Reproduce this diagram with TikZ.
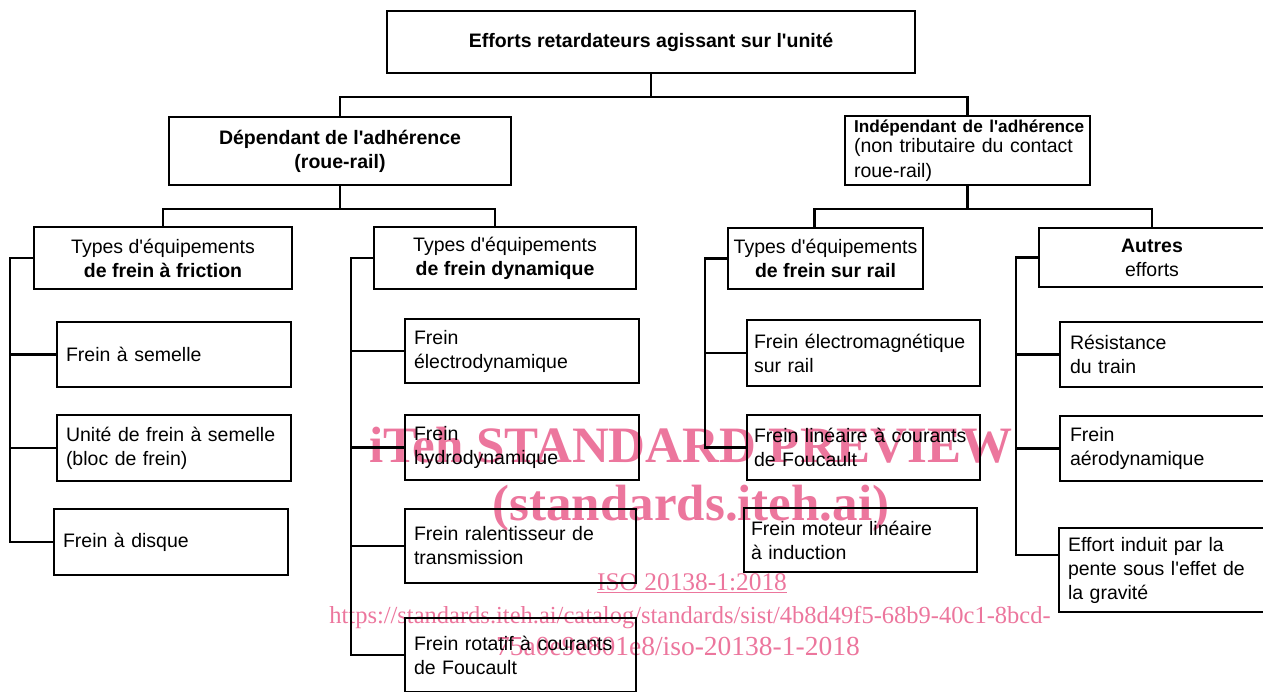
\documentclass[tikz,border=0pt]{standalone}
\usepackage{fontspec}
\setmainfont{Liberation Sans}[Ligatures=TeXOff]
\newfontfamily\wmfont{Liberation Serif}
\definecolor{wmpink}{RGB}{236,118,157}

\begin{document}
\begin{tikzpicture}[x=1pt, y=-1pt, line width=2.2pt,
  every node/.style={font=\fontsize{19.5}{24}\selectfont},
  hbox/.style={rectangle, draw, align=center, inner sep=0pt},
  leaf/.style={rectangle, draw, align=left, inner xsep=9pt, inner ysep=0pt},
  wm/.style={text=wmpink, font=\wmfont\fontsize{24.5}{26}\selectfont, anchor=base}]

\useasboundingbox (0,0) rectangle (1263,691);

% watermark
\draw (691,462) node (wmtitle) [wm, font=\wmfont\bfseries\fontsize{51}{52}\selectfont] {iTeh STANDARD PREVIEW};
\draw (691,520) node (wmsite) [wm, font=\wmfont\bfseries\fontsize{51}{52}\selectfont] {(standards.iteh.ai)};
\draw (692,590) node (wmiso) [wm, font=\wmfont\fontsize{25.4}{26}\selectfont] {\underline{ISO 20138-1:2018}};
\draw (690,623) node (wmurl) [wm] {https://standards.iteh.ai/catalog/standards/sist/4b8d49f5-68b9-40c1-8bcd-};
\draw (678,655) node (wmurlb) [wm, font=\wmfont\fontsize{27.5}{28}\selectfont] {75a0e9e801e8/iso-20138-1-2018};

% top levels
\draw (651,42) node (top) [hbox, minimum width=528pt, minimum height=62pt] {\textbf{Efforts retardateurs agissant sur l'unité}};
\draw (340,151) node (dep) [hbox, minimum width=342pt, minimum height=68pt] {\textbf{Dépendant de l'adhérence}\\\textbf{(roue-rail)}};
\draw (967.5,150.5) node (indep) [leaf, inner xsep=9pt, text width=227pt, minimum height=69pt] {\mbox{\fontsize{17.2}{18}\selectfont\bfseries Indépendant de l'adhérence}\\[-4pt](non tributaire du contact\\[1pt]roue-rail)};

\draw (top.south) -- ++(0,23) coordinate (t) -| (dep.north);
\draw (t) -| (indep.north);

% groups
\draw (163,258) node (fric) [hbox, minimum width=258pt, minimum height=62pt] {Types d'équipements\\\textbf{de frein à friction}};
\draw (505,258) node (dyn) [hbox, minimum width=262pt, minimum height=62pt] {Types d'équipements\\\textbf{de frein dynamique}};
\draw (825.5,258.5) node (rail) [hbox, minimum width=195pt, minimum height=61pt] {Types d'équipements\\\textbf{de frein sur rail}};
\draw (1152,257.5) node (autres) [hbox, minimum width=226pt, minimum height=59pt] {\textbf{Autres}\\efforts};

\draw (dep.south) -- ++(0,23) coordinate (d) -| (fric.north);
\draw (d) -| ([xshift=-10pt]dyn.north);
\draw (indep.south) -- ++(0,23) coordinate (i) -| ([xshift=-11pt]rail.north);
\draw (i) -| (autres.north);

% friction
\draw (174,354.5) node (semelle) [leaf, text width=216pt, minimum height=65pt] {Frein à semelle};
\draw (174,448) node (unite) [leaf, text width=216pt, minimum height=66pt] {Unité de frein à semelle\\(bloc de frein)};
\draw (171,542) node (disque) [leaf, text width=216pt, minimum height=66pt] {Frein à disque};

\draw (fric.west) -- ++(-23,0) coordinate (a) |- (disque.west);
\draw (a |- semelle.west) -- (semelle.west);
\draw (a |- unite.west) -- (unite.west);

% dynamique
\draw (522,351) node (electro) [leaf, text width=216pt, minimum height=64pt] {Frein\\électrodynamique};
\draw (522,447.5) node (hydro) [leaf, text width=216pt, minimum height=65pt] {Frein\\hydrodynamique};
\draw (520.5,546) node (ralent) [leaf, text width=213pt, minimum height=74pt] {Frein ralentisseur de\\transmission};
\draw (520.5,655) node (rotatif) [leaf, text width=213pt, minimum height=74pt] {Frein rotatif à courants\\de Foucault};

\draw (dyn.west) -- ++(-22,0) coordinate (b) |- (rotatif.west);
\draw (b |- electro.west) -- (electro.west);
\draw (b |- hydro.west) -- (hydro.west);
\draw (b |- ralent.west) -- (ralent.west);

% sur rail
\draw (863.5,353) node (emag) [leaf, inner xsep=7pt, text width=219pt, minimum height=66pt] {Frein électromagnétique\\sur rail};
\draw (863.5,447.5) node (lineaire) [leaf, inner xsep=7pt, text width=219pt, minimum height=65pt] {Frein linéaire à courants\\de Foucault};
\draw (860.5,540) node (moteur) [leaf, inner xsep=7pt, text width=219pt, minimum height=64pt] {Frein moteur linéaire\\à induction};

\draw (rail.west) -- ++(-22,0) coordinate (c) |- (lineaire.west);
\draw (c |- emag.west) -- (emag.west);

% autres efforts
\draw (1162.5,354.5) node (resist) [leaf, inner xsep=10pt, text width=185pt, minimum height=65pt] {Résistance\\du train};
\draw (1162.5,448.5) node (aero) [leaf, inner xsep=10pt, text width=185pt, minimum height=65pt] {Frein\\aérodynamique};
\draw (1162,570) node (effort) [leaf, inner xsep=9pt, text width=188pt, minimum height=84pt] {Effort induit par la\\pente sous l'effet de\\la gravité};

\draw (autres.west) -- ++(-22,0) coordinate (e) |- ([yshift=15pt]effort.west);
\draw (e |- resist.west) -- (resist.west);
\draw (e |- aero.west) -- (aero.west);

\end{tikzpicture}
\end{document}
